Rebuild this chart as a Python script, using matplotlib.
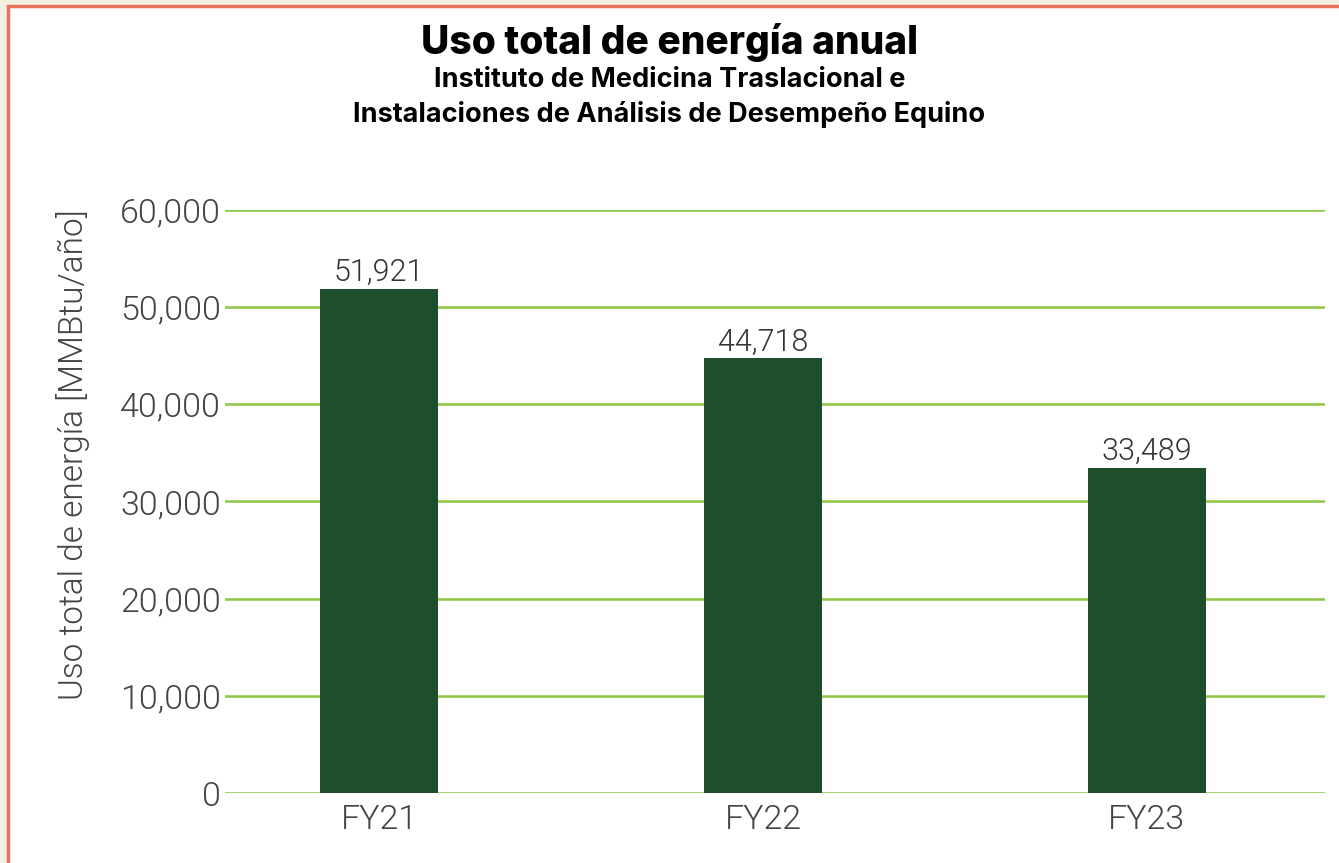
import matplotlib
matplotlib.use("Agg")
import matplotlib.pyplot as plt
from matplotlib.patches import Rectangle
from matplotlib.ticker import FuncFormatter

# data
years = ["FY21", "FY22", "FY23"]
energy = [51921, 44718, 33489]
yticks = [0, 10000, 20000, 30000, 40000, 50000, 60000]

bar_color = "#1f4e2c"
grid_color = "#8cc63f"
light_font = "Roboto"

fig = plt.figure(figsize=(13.39, 8.63), dpi=100, facecolor="#f3f0e2")
# white card with coral border (cut off on right / bottom)
card = Rectangle((8, -30), 1360, 887, transform=None, facecolor="white",
                 edgecolor="#e8735a", linewidth=2.5, zorder=-5)
fig.patches.append(card)

ax = fig.add_axes([225 / 1339, (863 - 793) / 863, 1100 / 1339, 583 / 863])
ax.set_facecolor("none")

x = list(range(len(years)))
ax.bar(x, energy, width=0.307, color=bar_color, zorder=3)
for xi, v in zip(x, energy):
    ax.text(xi, v + 200, f"{v:,}", ha="center", va="bottom",
            fontsize=22, family=light_font, fontweight=300, color="#333333")

ax.set_xlim(-0.401, 2.464)
ax.set_ylim(0, 60000)
ax.set_yticks(yticks)
ax.yaxis.set_major_formatter(FuncFormatter(lambda v, p: f"{int(v):,}"))
ax.set_xticks(x)
ax.set_xticklabels(years)
ax.grid(axis="y", color=grid_color, linewidth=1.8, zorder=1)
ax.set_axisbelow(True)
for s in ax.spines.values():
    s.set_visible(False)
ax.tick_params(length=0, labelsize=24.5, labelcolor="#444444", pad=3)
ax.tick_params(axis="x", pad=8)
for lab in ax.get_xticklabels() + ax.get_yticklabels():
    lab.set_family(light_font)
    lab.set_fontweight(300)

ax.set_ylabel("Uso total de energía [MMBtu/año]", fontsize=24, family=light_font,
              fontweight=300, color="#444444")
ax.yaxis.set_label_coords(-0.123, 0.58)

fig.text(0.5, 1 - 43 / 863, "Uso total de energía anual", ha="center", va="center",
         fontsize=28, family="Inter", fontweight="heavy", color="black")
fig.text(0.5, 1 - 80 / 863, "Instituto de Medicina Traslacional e", ha="center",
         va="center", fontsize=19.5, family="Inter", fontweight="bold", color="black")
fig.text(0.5, 1 - 115 / 863, "Instalaciones de Análisis de Desempeño Equino",
         ha="center", va="center", fontsize=19.5, family="Inter", fontweight="bold",
         color="black")

fig.savefig("out.png", dpi=100, facecolor=fig.get_facecolor())
